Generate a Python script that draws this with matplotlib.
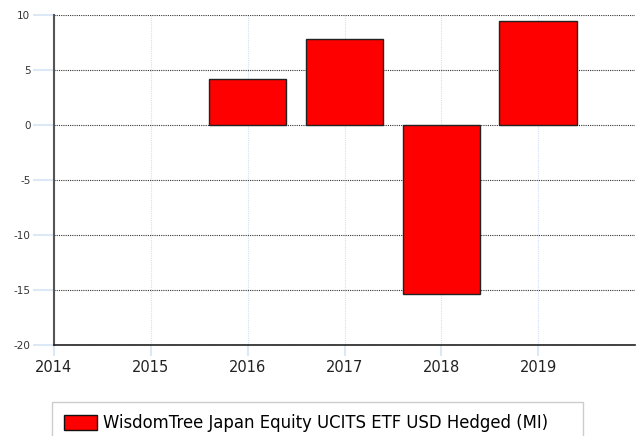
import numpy as np
import matplotlib.pyplot as plt
from matplotlib.patches import Patch, Rectangle

plt.rcParams['axes.unicode_minus'] = False

years = [2016, 2017, 2018, 2019]
returns = [4.2, 7.8, -15.4, 9.5]
series_name = "WisdomTree Japan Equity UCITS ETF USD Hedged (MI)"

fig = plt.figure(figsize=(6.37, 4.36), dpi=100)
ax = fig.add_axes([54/637, 1 - 345/436, 581/637, 330/436])

ax.bar(years, returns, width=0.8, color='#ff0000', edgecolor='#222222', linewidth=1, zorder=3)

ax.set_xlim(2014, 2020)
ax.set_ylim(-20, 10)
ax.set_xticks(range(2014, 2020))
ax.set_yticks(range(-20, 11, 5))

# grid: black dotted horizontal, pale blue vertical
ax.yaxis.grid(True, linestyle=(0, (1, 1)), color='#333333', linewidth=0.8, zorder=1)
ax.xaxis.grid(True, linestyle=(0, (1, 1)), color='#cfe0f5', linewidth=0.8, zorder=1)

for s in ['top', 'right']:
    ax.spines[s].set_visible(False)
ax.spines['left'].set_color('#555555')
ax.spines['left'].set_linewidth(1.5)
ax.spines['bottom'].set_color('#222222')
ax.spines['bottom'].set_linewidth(1.2)

ax.tick_params(axis='y', length=15, color='#dde8f7', width=1.5, labelsize=7.5, labelcolor='#333333', pad=2)
ax.tick_params(axis='x', length=8, color='#dde8f7', width=1.5, labelsize=10.5, labelcolor='#222222', pad=3)

# legend box (runs off the bottom of the image)
fig.patches.append(Rectangle((52/637, -0.05), (583-52)/637, 0.05 + 1 - 402/436,
                             transform=fig.transFigure, facecolor='white',
                             edgecolor='#cccccc', linewidth=1))
handle = Patch(facecolor='#ff0000', edgecolor='#111111', linewidth=1)
leg = fig.legend([handle], [series_name], loc='upper left',
                 bbox_to_anchor=(52/637, 1 - 402/436), borderaxespad=0, fontsize=11.9,
                 frameon=False, handlelength=2.0, handleheight=1.0,
                 borderpad=0.75, handletextpad=0.35)

fig.savefig('out.png', dpi=100)
